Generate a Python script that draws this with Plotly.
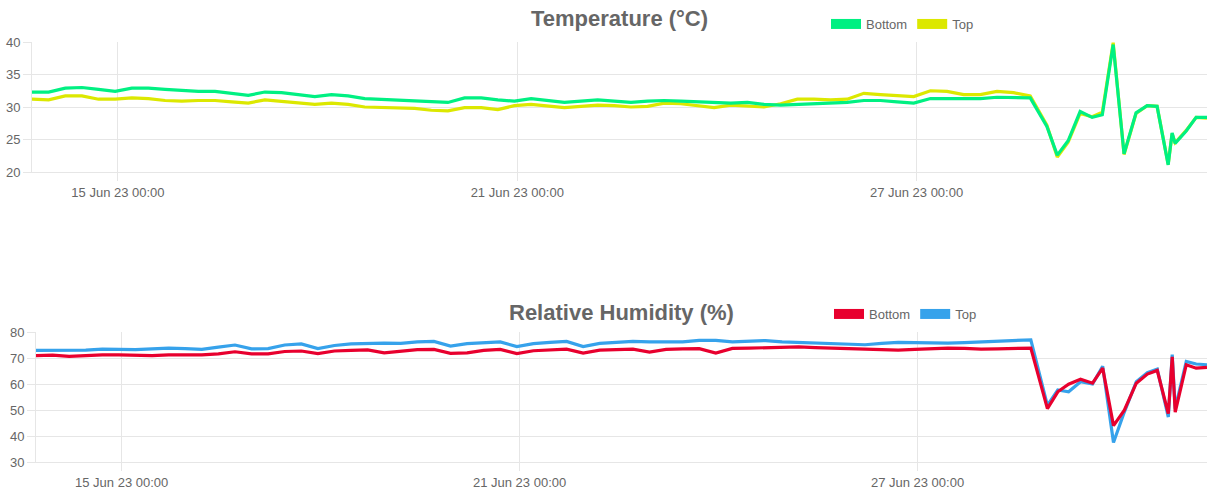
import pandas as pd
import plotly.graph_objects as go

# ---------------- data ----------------
dense_times = list(pd.date_range("2023-06-13 17:00", "2023-06-28 17:00", freq="6h").strftime("%Y-%m-%d %H:%M"))
tail_times = ["2023-06-28 23:00", "2023-06-29 02:45", "2023-06-29 06:40", "2023-06-29 11:00",
              "2023-06-29 15:20", "2023-06-29 19:00", "2023-06-29 22:55", "2023-06-30 02:50",
              "2023-06-30 07:10", "2023-06-30 11:10", "2023-06-30 14:45", "2023-06-30 18:45",
              "2023-06-30 20:10", "2023-06-30 21:15", "2023-07-01 01:15", "2023-07-01 04:50",
              "2023-07-01 08:45"]
times = dense_times + tail_times

temp_bottom = [32.3, 32.3, 32.9, 33.0, 32.7, 32.4, 32.9, 32.9, 32.7, 32.5,
               32.4, 32.4, 32.1, 31.8, 32.3, 32.2, 31.9, 31.6, 31.9, 31.7,
               31.3, 31.2, 31.1, 31.0, 30.8, 30.7, 31.4, 31.4, 31.1, 30.9,
               31.3, 31.0, 30.7, 30.9, 31.1, 30.9, 30.7, 30.9, 31.0, 30.9,
               30.8, 30.7, 30.6, 30.7, 30.4, 30.3, 30.4, 30.5, 30.5, 30.7,
               31.0, 31.0, 30.8, 30.6, 31.3, 31.3, 31.2, 31.3, 31.5, 31.5,
               31.4,
               27.0, 22.6, 24.8, 29.3, 28.4, 28.8, 39.6, 22.8, 29.1, 30.2,
               30.1, 21.1, 26.0, 24.4, 26.3, 28.4, 28.4]
temp_top = [31.2, 31.1, 31.7, 31.7, 31.2, 31.2, 31.4, 31.3, 31.0, 30.9,
            31.0, 31.0, 30.8, 30.6, 31.1, 30.9, 30.6, 30.4, 30.6, 30.4,
            30.0, 29.9, 29.9, 29.8, 29.5, 29.4, 29.9, 29.9, 29.6, 30.2,
            30.4, 30.1, 29.9, 30.1, 30.3, 30.2, 30.0, 30.1, 30.6, 30.5,
            30.2, 29.9, 30.3, 30.2, 30.0, 30.5, 31.2, 31.2, 31.1, 31.2,
            32.1, 31.9, 31.7, 31.6, 32.5, 32.4, 31.9, 31.9, 32.4, 32.2,
            31.7,
            27.2, 22.3, 24.6, 29.0, 28.5, 29.2, 39.9, 22.7, 29.0, 30.2,
            30.1, 21.2, 25.9, 24.5, 26.4, 28.4, 28.3]
hum_bottom = [70.9, 71.1, 70.6, 71.0, 71.2, 71.2, 71.0, 70.9, 71.2, 71.2,
              71.2, 71.6, 72.4, 71.6, 71.6, 72.5, 72.7, 71.7, 72.7, 72.9,
              73.1, 72.0, 72.7, 73.2, 73.3, 71.8, 72.0, 72.9, 73.3, 71.7,
              72.8, 73.2, 73.4, 71.9, 73.0, 73.2, 73.4, 72.3, 73.3, 73.5,
              73.6, 71.9, 73.7, 73.8, 73.9, 74.0, 74.3, 74.0, 73.8, 73.6,
              73.3, 73.2, 73.0, 73.3, 73.7, 73.8, 73.7, 73.4, 73.5, 73.7,
              73.8,
              50.5, 57.0, 59.9, 61.8, 60.3, 66.1, 44.0, 49.9, 60.3, 63.8,
              65.2, 48.6, 70.4, 49.2, 67.4, 66.1, 66.4]
hum_top = [72.9, 73.0, 72.8, 73.0, 73.4, 73.2, 73.2, 73.5, 73.8, 73.6,
           73.3, 74.2, 75.0, 73.5, 73.6, 75.0, 75.4, 73.6, 74.8, 75.4,
           75.6, 75.7, 75.6, 76.2, 76.4, 74.6, 75.5, 75.8, 76.2, 74.4,
           75.5, 76.0, 76.4, 74.4, 75.6, 76.0, 76.4, 76.2, 76.1, 76.2,
           76.8, 76.8, 76.2, 76.5, 76.7, 76.2, 76.0, 75.8, 75.7, 75.4,
           75.1, 75.6, 76.0, 75.9, 75.7, 75.7, 75.9, 76.1, 76.3, 76.6,
           77.0,
           51.8, 57.7, 57.0, 60.9, 60.0, 66.8, 37.5, 49.2, 60.9, 64.4,
           65.7, 47.3, 71.3, 50.5, 68.7, 67.7, 67.4]

series_names = ["Bottom", "Top"]
temp_title = "Temperature (°C)"
hum_title = "Relative Humidity (%)"
tick_start = "2023-06-15"

# ---------------- style ----------------
W, H = 1207, 491
FONT = "Liberation Sans, Arial, sans-serif"
GRAY = "#666666"
GRID = "#e6e6e6"
C_GREEN = "rgb(0,240,130)"
C_YELLOW = "rgb(220,232,0)"
C_RED = "rgb(232,0,46)"
C_BLUE = "rgb(54,162,235)"

fig = go.Figure()

# data traces (Top drawn first so Bottom sits on top)
fig.add_trace(go.Scatter(x=times, y=temp_top, mode="lines", line=dict(color=C_YELLOW, width=3.2),
                         showlegend=False, xaxis="x", yaxis="y"))
fig.add_trace(go.Scatter(x=times, y=temp_bottom, mode="lines", line=dict(color=C_GREEN, width=3.2),
                         showlegend=False, xaxis="x", yaxis="y"))
fig.add_trace(go.Scatter(x=times, y=hum_top, mode="lines", line=dict(color=C_BLUE, width=3.2),
                         showlegend=False, xaxis="x2", yaxis="y2"))
fig.add_trace(go.Scatter(x=times, y=hum_bottom, mode="lines", line=dict(color=C_RED, width=3.2),
                         showlegend=False, xaxis="x2", yaxis="y2"))

# legend entries (box-like swatches)
for name, col in zip(series_names, [C_GREEN, C_YELLOW]):
    fig.add_trace(go.Scatter(x=[None], y=[None], mode="lines", name=name,
                             line=dict(color=col, width=14), legend="legend",
                             xaxis="x", yaxis="y", hoverinfo="skip"))
for name, col in zip(series_names, [C_RED, C_BLUE]):
    fig.add_trace(go.Scatter(x=[None], y=[None], mode="lines", name=name,
                             line=dict(color=col, width=14), legend="legend2",
                             xaxis="x2", yaxis="y2", hoverinfo="skip"))

xcommon = dict(type="date", range=[times[0], times[-1]], tick0=tick_start, dtick=6 * 86400000,
               tickformat="%d %b %y %H:%M", showgrid=True, gridcolor=GRID, gridwidth=1,
               ticks="outside", ticklen=8, tickcolor=GRID, showline=True, linecolor=GRID,
               zeroline=False, automargin=False,
               tickfont=dict(family=FONT, size=13, color=GRAY))
ycommon = dict(showgrid=True, gridcolor=GRID, gridwidth=1, ticks="outside", ticklen=8,
               tickcolor=GRID, showline=True, linecolor=GRID, zeroline=False, automargin=False,
               tickfont=dict(family=FONT, size=13, color=GRAY))

legcommon = dict(orientation="h", xanchor="left", yanchor="middle",
                 font=dict(family=FONT, size=13, color=GRAY), bgcolor="rgba(0,0,0,0)",
                 itemclick=False, itemdoubleclick=False)

fig.update_layout(
    width=W, height=H, autosize=False,
    margin=dict(l=0, r=0, t=0, b=0, pad=0, autoexpand=False),
    paper_bgcolor="white", plot_bgcolor="white",
    xaxis=dict(domain=[32 / W, 1], anchor="y", **xcommon),
    yaxis=dict(domain=[1 - 172 / H, 1 - 42 / H], anchor="x", range=[20, 40], dtick=5, **ycommon),
    xaxis2=dict(domain=[36 / W, 1], anchor="y2", **xcommon),
    yaxis2=dict(domain=[1 - 462 / H, 1 - 332 / H], anchor="x2", range=[30, 80], dtick=10, **ycommon),
    legend=dict(x=826 / W, y=1 - 24 / H, **legcommon),
    legend2=dict(x=829 / W, y=1 - 314 / H, **legcommon),
    annotations=[
        dict(text="<b>" + temp_title + "</b>", xref="x domain", x=0.5, yref="paper", y=1 - 18 / H,
             xanchor="center", yanchor="middle", showarrow=False,
             font=dict(family=FONT, size=22, color=GRAY)),
        dict(text="<b>" + hum_title + "</b>", xref="x2 domain", x=0.5, yref="paper", y=1 - 312 / H,
             xanchor="center", yanchor="middle", showarrow=False,
             font=dict(family=FONT, size=22, color=GRAY)),
    ],
    hovermode=False,
)

fig.write_html("out.html", config={"displayModeBar": False, "staticPlot": True},
               post_script="document.body.style.margin='0';document.body.style.overflow='hidden';")
